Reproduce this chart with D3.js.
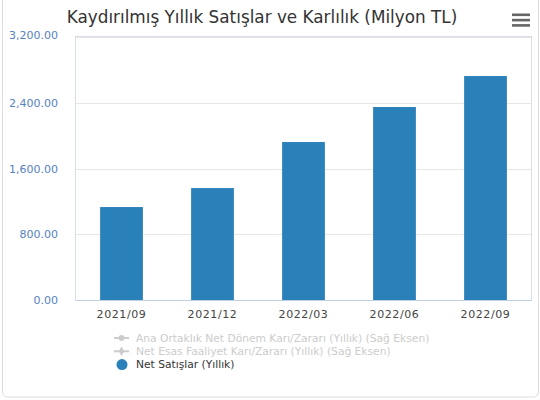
<!DOCTYPE html>
<html>
  <head>
    <meta charset="utf-8">
    <title>Kaydırılmış Yıllık Satışlar</title>
    <script src="https://d3js.org/d3.v7.min.js"></script>
    <style>
      body { margin: 0; background: #fff; }
      svg { font-family: "DejaVu Sans", Verdana, sans-serif; }
    </style>
  </head>
  <body>
    <div id="chart"></div>
    <script>
      // data
      var periods = ["2021/09", "2021/12", "2022/03", "2022/06", "2022/09"];
      var netSales = [1131, 1362, 1922, 2348, 2725];
      var yTicks = [0, 800, 1600, 2400, 3200];
      var legendItems = ["Ana Ortaklık Net Dönem Karı/Zararı (Yıllık) (Sağ Eksen)",
                         "Net Esas Faaliyet Karı/Zararı (Yıllık) (Sağ Eksen)",
                         "Net Satışlar (Yıllık)"];
      var legendVisible = [false, false, true];
      var title = "Kaydırılmış Yıllık Satışlar ve Karlılık (Milyon TL)";

      var width = 540, height = 400;
      var margin = { top: 37, right: 9, bottom: 100, left: 76 };
      var barColor = "#2a80b9";

      var svg = d3.select("#chart").append("svg")
        .attr("width", width)
        .attr("height", height);

      // outer frame
      svg.append("rect")
        .attr("x", 2.5).attr("y", -6)
        .attr("width", 536).attr("height", 403)
        .attr("rx", 5)
        .attr("fill", "none")
        .attr("stroke", "#dcdcdc");

      // title, shrink to the width seen in the picture
      var t = svg.append("text")
        .attr("x", 262).attr("y", 23)
        .attr("text-anchor", "middle")
        .attr("fill", "#333")
        .style("font-size", "18px")
        .text(title);
      var tw = t.node().getComputedTextLength();
      if (tw > 0) t.style("font-size", (18 * 391 / tw) + "px");

      // menu button
      svg.append("g").selectAll("rect")
        .data([0, 1, 2])
        .enter().append("rect")
          .attr("x", 512).attr("width", 18)
          .attr("y", function(d) { return 13.5 + d * 5.3; })
          .attr("height", 2.6)
          .attr("fill", "#666");

      var x = d3.scaleBand()
        .domain(periods)
        .range([margin.left, width - margin.right])
        .paddingInner(0.53)
        .paddingOuter(0.265);
      var y = d3.scaleLinear()
        .domain([0, 3200])
        .range([height - margin.bottom, margin.top]);

      // grid
      svg.append("g").selectAll("line")
        .data(yTicks)
        .enter().append("line")
          .attr("x1", margin.left).attr("x2", width - margin.right)
          .attr("y1", function(d) { return Math.round(y(d)) + 0.5; })
          .attr("y2", function(d) { return Math.round(y(d)) + 0.5; })
          .attr("stroke", "#e6e6e6");

      // plot frame
      svg.append("rect")
        .attr("x", margin.left - 0.5).attr("y", margin.top - 0.5)
        .attr("width", width - margin.right - margin.left + 1)
        .attr("height", y(0) - margin.top + 1)
        .attr("fill", "none")
        .attr("stroke", "#d7dee8");

      // bars
      svg.append("g").selectAll("rect")
        .data(netSales)
        .enter().append("rect")
          .attr("x", function(d, i) { return x(periods[i]); })
          .attr("width", x.bandwidth())
          .attr("y", function(d) { return y(d); })
          .attr("height", function(d) { return y(0) - y(d); })
          .attr("fill", barColor);

      // y axis
      var yAxis = svg.append("g")
        .attr("transform", "translate(" + (margin.left - 15) + ",0)")
        .call(d3.axisLeft(y).tickValues(yTicks).tickSize(0).tickFormat(d3.format(",.2f")));
      yAxis.select(".domain").remove();
      yAxis.selectAll("text")
        .attr("fill", "#5582c0")
        .attr("dy", "0.32em")
        .style("font-size", "11px")
        .style("font-family", "DejaVu Sans, sans-serif");
      yAxis.selectAll("text").filter(function(d) { return d === 3200; }).attr("dy", "0.15em");

      // x axis
      var xAxis = svg.append("g")
        .attr("transform", "translate(0," + y(0) + ")")
        .call(d3.axisBottom(x).tickSize(0).tickPadding(10));
      xAxis.select(".domain").attr("stroke", "#c0d0e0");
      xAxis.selectAll("text")
        .attr("fill", "#444")
        .style("font-size", "11px")
        .style("letter-spacing", "0.6px")
        .style("font-family", "DejaVu Sans, sans-serif");

      // legend
      var legend = svg.append("g").selectAll("g")
        .data(legendItems)
        .enter().append("g")
          .attr("transform", function(d, i) { return "translate(0," + (338 + i * 13.3) + ")"; });
      legend.each(function(d, i) {
        var g = d3.select(this);
        var col = legendVisible[i] ? barColor : "#cccccc";
        if (!legendVisible[i]) {
          g.append("line")
            .attr("x1", 114).attr("x2", 129)
            .attr("stroke", col).attr("stroke-width", 2);
          g.append("path")
            .attr("transform", "translate(121.5,0)")
            .attr("d", d3.symbol().type(i === 0 ? d3.symbolCircle : d3.symbolDiamond).size(i === 0 ? 28 : 26))
            .attr("fill", col);
        } else {
          g.append("circle")
            .attr("cx", 122).attr("r", 5.5)
            .attr("fill", col);
        }
        g.append("text")
          .attr("x", 136).attr("dy", "0.35em")
          .attr("fill", legendVisible[i] ? "#333" : "#cccccc")
          .style("font-size", "10.7px")
          .text(d);
      });
    </script>
  </body>
</html>
